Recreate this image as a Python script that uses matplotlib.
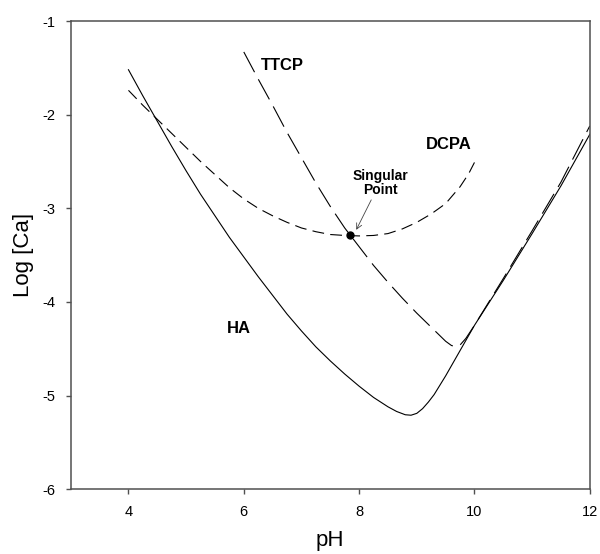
import matplotlib
matplotlib.use("Agg")
import matplotlib.pyplot as plt

# 字体设置：类 Arial，负号用普通连字符
plt.rcParams['font.family'] = ['Liberation Sans', 'DejaVu Sans']
plt.rcParams['axes.unicode_minus'] = False
plt.rcParams['lines.scale_dashes'] = False

# HA 溶解度曲线（实线）
ha_ph = [4.0, 4.25, 4.5, 4.75, 5.0, 5.25, 5.5, 5.75, 6.0, 6.25, 6.5, 6.75,
         7.0, 7.25, 7.5, 7.75, 8.0, 8.25, 8.5, 8.65, 8.8, 8.9, 9.0, 9.1,
         9.2, 9.3, 9.4, 9.5, 9.75, 10.0, 10.5, 11.0, 11.5, 12.0]
ha_logca = [-1.52, -1.80, -2.07, -2.34, -2.60, -2.85, -3.08, -3.31, -3.52,
            -3.73, -3.93, -4.13, -4.31, -4.48, -4.63, -4.77, -4.90, -5.02,
            -5.12, -5.17, -5.205, -5.21, -5.19, -5.14, -5.07, -4.99, -4.89,
            -4.79, -4.52, -4.25, -3.77, -3.27, -2.76, -2.21]

# DCPA 溶解度曲线（短虚线）
dcpa_ph = [4.0, 4.25, 4.5, 4.75, 5.0, 5.25, 5.5, 5.75, 6.0, 6.25, 6.5, 6.75,
           7.0, 7.25, 7.5, 7.75, 8.0, 8.25, 8.5, 8.75, 9.0, 9.25, 9.5, 9.75,
           9.9, 10.0]
dcpa_logca = [-1.74, -1.90, -2.05, -2.20, -2.35, -2.50, -2.64, -2.78, -2.90,
              -3.00, -3.08, -3.15, -3.21, -3.25, -3.28, -3.29, -3.295, -3.29,
              -3.27, -3.22, -3.15, -3.06, -2.95, -2.77, -2.63, -2.51]

# TTCP 溶解度曲线（长虚线）
ttcp_ph = [6.0, 6.25, 6.5, 6.75, 7.0, 7.25, 7.5, 7.75, 8.0, 8.25, 8.5, 8.75,
           9.0, 9.25, 9.4, 9.5, 9.6, 9.68, 9.75, 9.85, 10.0, 10.5, 11.0,
           11.5, 12.0]
ttcp_logca = [-1.33, -1.62, -1.90, -2.19, -2.46, -2.73, -2.98, -3.21, -3.41,
              -3.61, -3.79, -3.96, -4.12, -4.27, -4.36, -4.42, -4.465, -4.48,
              -4.46, -4.39, -4.25, -3.75, -3.24, -2.72, -2.12]

# 奇异点
singular_ph = 7.85
singular_logca = -3.29

x_ticks = [4, 6, 8, 10, 12]
y_ticks = [-6, -5, -4, -3, -2, -1]

fig = plt.figure(figsize=(6.0, 5.54), dpi=100)
ax = fig.add_axes([0.118, 0.117, 0.865, 0.845])

ax.plot(ha_ph, ha_logca, color='black', lw=0.8)
ax.plot(dcpa_ph, dcpa_logca, color='black', lw=0.8, dashes=(8.5, 4.5))
ax.plot(ttcp_ph, ttcp_logca, color='black', lw=0.8, dashes=(16.5, 5.8))
ax.plot([singular_ph], [singular_logca], 'o', color='black', markersize=5)

# 文字标注
ax.text(6.30, -1.47, 'TTCP', fontsize=12, fontweight='bold', va='center')
ax.text(9.15, -2.32, 'DCPA', fontsize=12, fontweight='bold', va='center')
ax.text(5.71, -4.28, 'HA', fontsize=12, fontweight='bold', va='center')
ax.text(8.37, -2.73, 'Singular\nPoint', fontsize=10, fontweight='bold',
        ha='center', va='center', linespacing=0.95)
ax.annotate('', xy=(7.95, -3.23), xytext=(8.21, -2.91),
            arrowprops=dict(arrowstyle='->', color='#444444', lw=0.6,
                            shrinkA=0, shrinkB=0))

ax.set_xlim(3, 12)
ax.set_ylim(-6, -1)
ax.set_xticks(x_ticks)
ax.set_yticks(y_ticks)
ax.tick_params(direction='out', length=3.6, width=1.0, color='#505050',
               labelsize=10.5, pad=7.5)
for sp in ax.spines.values():
    sp.set_color('#505050')
    sp.set_linewidth(1.1)

ax.set_xlabel('pH', fontsize=16, labelpad=8)
ax.set_ylabel('Log [Ca]', fontsize=16, labelpad=6)

fig.savefig('out.png', dpi=100)
